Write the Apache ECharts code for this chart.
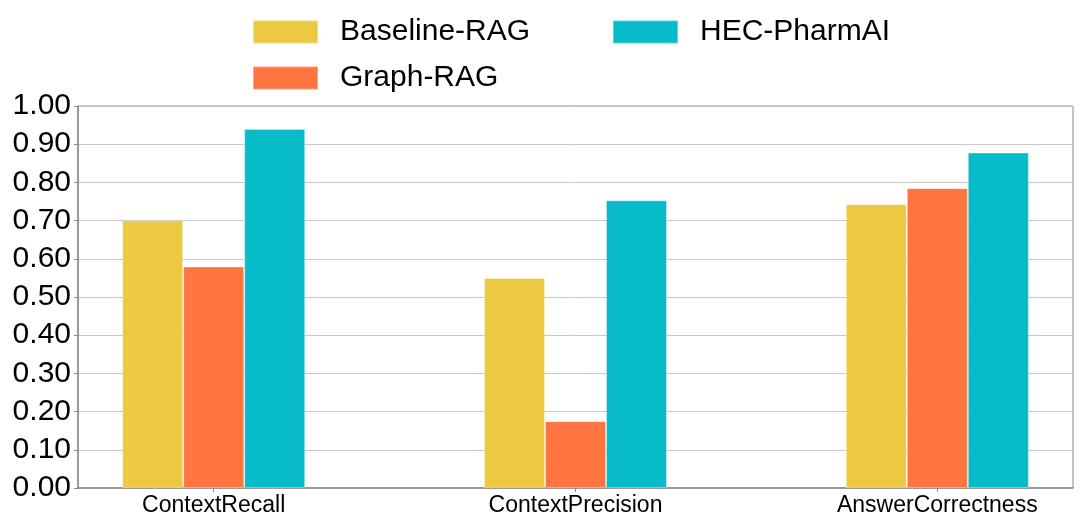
<!DOCTYPE html>
<html>
<head>
<meta charset="utf-8">
<script src="https://cdn.jsdelivr.net/npm/echarts@6/dist/echarts.min.js"></script>
<style>
html,body{margin:0;padding:0;background:#fff;}
#chart{width:1080px;height:525px;}
</style>
</head>
<body>
<div id="chart"></div>
<script>
const categories = ['ContextRecall', 'ContextPrecision', 'AnswerCorrectness'];
const seriesNames = ['Baseline-RAG', 'Graph-RAG', 'HEC-PharmAI'];
const baselineRAG = [0.70, 0.55, 0.743];
const graphRAG = [0.58, 0.175, 0.785];
const hecPharmAI = [0.94, 0.753, 0.878];
const yTicks = [0, 0.1, 0.2, 0.3, 0.4, 0.5, 0.6, 0.7, 0.8, 0.9, 1.0];

const colors = ['#EDC942', '#FE7542', '#07BBC8'];
const font = 'Liberation Sans, Arial, sans-serif';

const chart = echarts.init(document.getElementById('chart'), null, {renderer: 'canvas'});

function mk(name, vals, i) {
  return {
    name: name,
    type: 'bar',
    barWidth: 61,
    barGap: '0%',
    data: vals.map((v, k) => [k, v]),
    itemStyle: {color: colors[i], borderColor: 'rgba(255,255,255,0.35)', borderWidth: 1},
    emphasis: {disabled: true}
  };
}

const legendCommon = {
  orient: 'vertical',
  itemWidth: 65,
  itemHeight: 23,
  itemGap: 16,
  icon: 'rect',
  textStyle: {fontFamily: font, fontSize: 30, color: '#000', lineHeight: 23, padding: [0, 0, 0, 17]},
  selectedMode: false
};

chart.setOption({
  animation: false,
  backgroundColor: '#fff',
  color: colors,
  legend: [
    Object.assign({}, legendCommon, {left: 247, top: 12, data: [seriesNames[0], seriesNames[1]]}),
    Object.assign({}, legendCommon, {left: 607, top: 12, data: [seriesNames[2]]})
  ],
  grid: {left: 78, right: 7, top: 106, bottom: 37, show: true, borderColor: '#8a8a8a', borderWidth: 1, backgroundColor: 'transparent'},
  xAxis: {
    type: 'value',
    min: -0.375,
    max: 2.375,
    splitLine: {show: false},
    axisLine: {show: true, lineStyle: {color: '#8a8a8a', width: 1.5}},
    axisTick: {show: true, length: 4, customValues: [0, 1, 2], lineStyle: {color: '#8a8a8a'}},
    axisLabel: {
      customValues: [0, 1, 2],
      formatter: v => categories[Math.round(v)] || '',
      fontFamily: font, fontSize: 23, color: '#000', margin: 6
    }
  },
  yAxis: {
    type: 'value',
    min: 0,
    max: 1,
    interval: 0.1,
    axisLine: {show: true, onZero: false, lineStyle: {color: '#8a8a8a', width: 1.5}},
    axisTick: {show: true, length: 4, lineStyle: {color: '#8a8a8a'}},
    splitLine: {show: true, lineStyle: {color: '#c8c8c8', width: 1}},
    axisLabel: {
      formatter: v => v.toFixed(2),
      fontFamily: font, fontSize: 30, color: '#000', margin: 7
    }
  },
  series: [
    mk(seriesNames[0], baselineRAG, 0),
    mk(seriesNames[1], graphRAG, 1),
    mk(seriesNames[2], hecPharmAI, 2)
  ]
});
</script>
</body>
</html>
